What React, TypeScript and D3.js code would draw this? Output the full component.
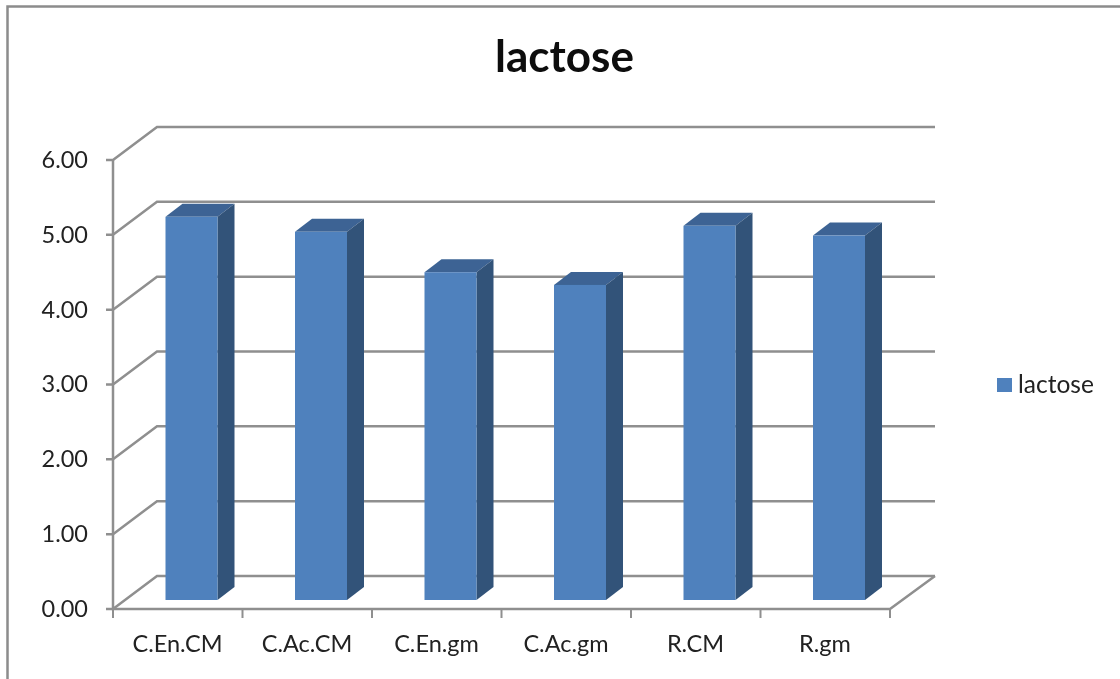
import React from "react";
import * as d3 from "d3";

const categories = ["C.En.CM", "C.Ac.CM", "C.En.gm", "C.Ac.gm", "R.CM", "R.gm"];
const lactose = [5.12, 4.92, 4.38, 4.21, 5.0, 4.87];
const yTicks = [0, 1, 2, 3, 4, 5, 6];
const seriesName = "lactose";

const FONT = "Lato, 'Open Sans', sans-serif";
const GRID = "#8f8f8f";
const TEXT = "#222222";

const y = d3.scaleLinear().domain([0, 6]).range([609, 160]);
const x = d3.scaleBand().domain(categories).range([113, 890]);
const depth = { dx: 44, dy: -33 };
const barWidth = 52;
const barDepth = { dx: 17, dy: -13 };
const barInset = { dx: 52.5, dy: -9 };

export default function App() {
  return (
    <svg width={1120} height={679} style={{ position: "absolute", left: 0, top: 0, background: "#fff" }}>
      <defs>
        <filter id="soft" x="0" y="0" width="100%" height="100%">
          <feGaussianBlur stdDeviation="0.45" />
        </filter>
      </defs>
      <g filter="url(#soft)">
        <rect width={1120} height={679} fill="#fff" />
        <path d="M7.5,679V6.5H1120" fill="none" stroke="#8c8c8c" strokeWidth={2.5} />
        <text x={564.5} y={72} textAnchor="middle" fontFamily={FONT} fontWeight={700} fontSize={44} fill="#0a0a0a">{seriesName}</text>

        {yTicks.map((t) => (
          <g key={t}>
            <path
              d={`M${x.range()[0] - 7},${y(t)}H${x.range()[0]}l${depth.dx},${depth.dy}H${x.range()[1] + depth.dx + 1}`}
              fill="none" stroke={GRID} strokeWidth={2.5}
            />
            <text x={88} y={y(t)} dy="0.34em" textAnchor="end" fontFamily={FONT} fontSize={23.5} fill={TEXT}>{t.toFixed(2)}</text>
          </g>
        ))}

        <path d={`M113,${y(6)}V${y(0)}H890l${depth.dx + 1},${depth.dy}`} fill="none" stroke={GRID} strokeWidth={2.5} />
        {[...categories.map((c) => x(c) as number), x.range()[1]].map((px) => (
          <line key={px} x1={px} x2={px} y1={y(0)} y2={y(0) + 9} stroke={GRID} strokeWidth={2} />
        ))}

        {categories.map((c, i) => {
          const left = (x(c) as number) + barInset.dx;
          const base = y(0) + barInset.dy;
          const top = base - (y(0) - y(lactose[i]));
          const right = left + barWidth;
          const top3 = d3.path();
          top3.moveTo(left, top);
          top3.lineTo(left + barDepth.dx, top + barDepth.dy);
          top3.lineTo(right + barDepth.dx, top + barDepth.dy);
          top3.lineTo(right, top);
          top3.closePath();
          const side = d3.path();
          side.moveTo(right, top);
          side.lineTo(right + barDepth.dx, top + barDepth.dy);
          side.lineTo(right + barDepth.dx, base + barDepth.dy);
          side.lineTo(right, base);
          side.closePath();
          return (
            <g key={c}>
              <path d={top3.toString()} fill="#3c6494" />
              <path d={side.toString()} fill="#325279" />
              <rect x={left} y={top} width={barWidth} height={base - top} fill="#4f81bd" />
              <text x={left + barWidth / 2 - 14} y={644} dy="0.34em" textAnchor="middle" fontFamily={FONT} fontSize={23.5} fill={TEXT}>{c}</text>
            </g>
          );
        })}

        <rect x={997} y={378} width={15} height={14} fill="#4f81bd" />
        <text x={1018} y={385} dy="0.34em" fontFamily={FONT} fontSize={24.5} fill={TEXT}>{seriesName}</text>
      </g>
    </svg>
  );
}
